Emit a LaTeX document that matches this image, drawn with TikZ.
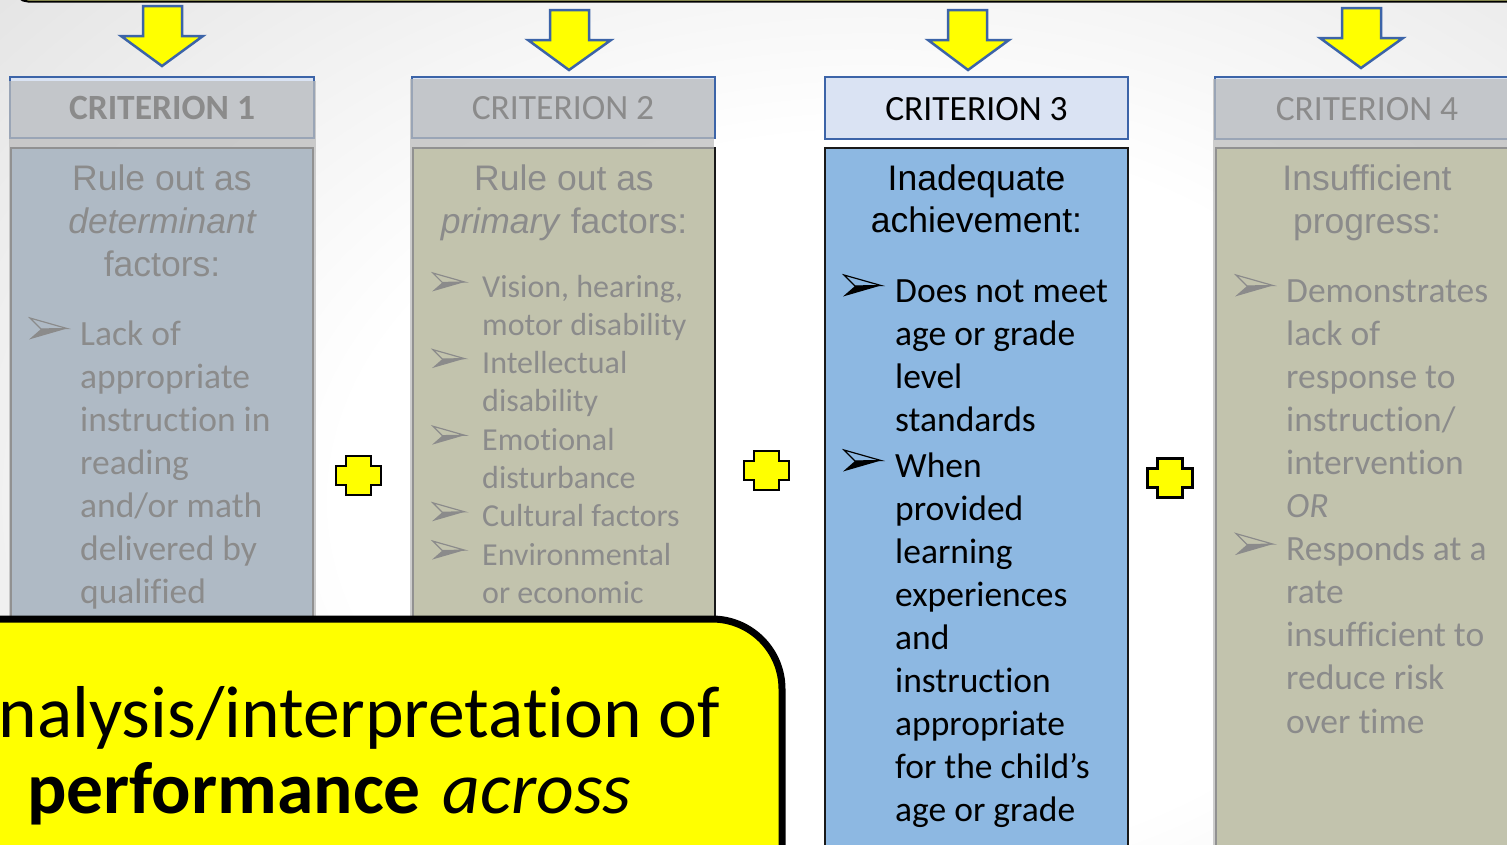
\documentclass[tikz,border=0pt]{standalone}
\usepackage{fontspec}
\setmainfont{Carlito}[Ligatures=CommonOff]
\newfontfamily\arialfont{Liberation Sans}
\definecolor{bgedge}{HTML}{C4C4C4}
\definecolor{topolive}{HTML}{CDD077}
\definecolor{hdrfill}{HTML}{DAE3F3}
\definecolor{hdrline}{HTML}{3C64A8}
\definecolor{bluebox}{HTML}{8DB8E2}
\definecolor{olivebox}{HTML}{D6DA84}
\definecolor{fadegray}{HTML}{BCBCBC}
\definecolor{signyellow}{HTML}{FFFF00}
\pgfdeclareradialshading{bgglow}{\pgfpoint{0bp}{0bp}}{color(0bp)=(white); color(14bp)=(white); color(50bp)=(bgedge)}
\tikzset{
  hdrbox/.style={fill=hdrfill, draw=hdrline, line width=2.5pt},
  hdrtxt/.style={anchor=base, inner sep=0pt, font=\fontsize{35.5}{43}\selectfont},
  bodybox/.style={draw=black!90, line width=1.5pt},
  titletxt/.style={anchor=base, inner sep=0pt, font=\arialfont\fontsize{35.5}{43}\selectfont},
  bodytxt/.style={anchor=base west, inner sep=0pt, font=\fontsize{35.5}{43}\selectfont},
  smalltxt/.style={anchor=base west, inner sep=0pt, font=\fontsize{32}{38}\selectfont},
  bigtxt/.style={inner sep=0pt, font=\fontsize{73.5}{88}\selectfont},
  downarrow/.style={fill=signyellow, draw=hdrline, line width=2.5pt, line join=miter},
  fade/.style={fill=fadegray, fill opacity=0.74, draw=none},
  bul/.pic={
    \draw[line width=1.2pt, line join=miter] (1,0) -- (38,10.5) -- (12,11) -- cycle;
    \fill (12,11) -- (38,10.5) -- (0,21.5) -- cycle;
  },
  plussign/.pic={
    \filldraw[fill=signyellow, draw=black, line width=2.5pt, line join=miter]
      (-12.5,-19.5) -- (12.5,-19.5) -- (12.5,-9.5) -- (22.5,-9.5) -- (22.5,9.5)
      -- (12.5,9.5) -- (12.5,19.5) -- (-12.5,19.5) -- (-12.5,9.5) -- (-22.5,9.5)
      -- (-22.5,-9.5) -- (-12.5,-9.5) -- cycle;
  }
}
\begin{document}
\begin{tikzpicture}[x=1pt, y=-1pt]
\useasboundingbox (0,0) rectangle (1507,844);
\clip (0,0) rectangle (1507,844);

% page background with a soft light glow
\shade[shading=bgglow] (-80,-150) rectangle (1820,1150);

% lower rim of the banner above the criteria
\filldraw[fill=topolive, draw=black, line width=2pt, rounded corners=13] (15,-60) rectangle (1620,1.5);

% arrows leading down to each criterion
\draw[downarrow] (143,6) -- (182,6) -- (182,36) -- (203,36) -- (162,66) -- (121,36) -- (143,36) -- cycle;
\draw[downarrow] (550,10) -- (589,10) -- (589,40) -- (611,40) -- (569,70) -- (528,40) -- (550,40) -- cycle;
\draw[downarrow] (948,10) -- (987,10) -- (987,40) -- (1009,40) -- (968,70) -- (928,40) -- (948,40) -- cycle;
\draw[downarrow] (1342,8) -- (1381,8) -- (1381,38) -- (1403,38) -- (1361,68) -- (1320,38) -- (1342,38) -- cycle;

% ---- criterion 1
\draw[hdrbox] (10,77) rectangle (314,138);
\node[hdrtxt] (h1) at (162,119.5) {\bfseries CRITERION 1};
\filldraw[bodybox, fill=bluebox] (11,148) rectangle (313,900);
\node[titletxt] (t1a) at (162,190) {Rule out as};
\node[titletxt] (t1b) at (162,233) {\itshape determinant};
\node[titletxt] (t1c) at (162,276) {factors:};
\pic at (29,318) {bul};
\foreach \t [count=\i from 0] in {Lack of, appropriate, instruction in, reading, and/or math, delivered by, qualified}
  \node[bodytxt] (a\i) at (80,345+43.1*\i) {\t};

% ---- criterion 2
\draw[hdrbox] (412,77) rectangle (715,138);
\node[hdrtxt] (h2) at (563,119.5) {CRITERION 2};
\filldraw[bodybox, fill=olivebox] (413,148) rectangle (715,900);
\node[titletxt] (t2a) at (564,190) {Rule out as};
\node[titletxt] (t2b) at (564,233) {\textit{primary} factors:};
\foreach \y in {297,373.6,450.2,526.8,565.1}
  \pic[scale=0.86] at (432,\y-24) {bul};
\foreach \t [count=\i from 0] in {{Vision, hearing,}, motor disability, Intellectual, disability, Emotional, disturbance, Cultural factors, Environmental, or economic}
  \node[smalltxt] (b\i) at (482,297+38.3*\i) {\t};

% ---- criterion 3
\draw[hdrbox] (825,77) rectangle (1128,139);
\node[hdrtxt] (h3) at (976.5,120) {CRITERION 3};
\filldraw[bodybox, fill=bluebox] (825,148) rectangle (1128,900);
\node[titletxt] (t3a) at (976.5,190) {Inadequate};
\node[titletxt] (t3b) at (976.5,232) {achievement:};
\pic at (843,275) {bul};
\foreach \t [count=\i from 0] in {Does not meet, age or grade, level, standards}
  \node[bodytxt] (c\i) at (895,302+43.1*\i) {\t};
\pic at (843,450) {bul};
\foreach \t [count=\i from 0] in {When, provided, learning, experiences, and, instruction, appropriate, for the child’s, age or grade}
  \node[bodytxt] (d\i) at (895,477+43.1*\i) {\t};

% ---- criterion 4
\draw[hdrbox] (1215,77) rectangle (1600,139);
\node[hdrtxt] (h4) at (1367,120) {CRITERION 4};
\filldraw[bodybox, fill=olivebox] (1216,148) rectangle (1600,900);
\node[titletxt] (t4a) at (1367,190) {Insufficient};
\node[titletxt] (t4b) at (1367,233) {progress:};
\pic at (1235,275) {bul};
\pic at (1235,533.6) {bul};
\foreach \t [count=\i from 0] in {Demonstrates, lack of, response to, instruction/, intervention, \textit{OR}, Responds at a, rate, insufficient to, reduce risk, over time}
  \node[bodytxt] (e\i) at (1286,302+43.1*\i) {\t};

% grey veil over the criteria that are not in focus
\fill[fade] (8.5,80.5) rectangle (315.5,900);
\fill[fade] (409.5,79) rectangle (713.5,900);
\fill[fade] (1212.5,79) rectangle (1620,900);

% plus signs between the criteria
\pic at (358.5,475.5) {plussign};
\pic at (766.5,470.5) {plussign};
\pic at (1170,478) {plussign};

% callout box in the lower left
\filldraw[fill=signyellow, draw=black, line width=7pt, rounded corners=70]
  (-300,1100) -- (-300,619) -- (782,619) -- (782,1100) -- cycle;
\node[bigtxt, anchor=base east] (q1) at (720,737) {Analysis/interpretation of};
\node[bigtxt, anchor=base west] (q2) at (27,813) {\textbf{performance}\hspace{0.3em}\textit{across}};
\end{tikzpicture}
\end{document}
